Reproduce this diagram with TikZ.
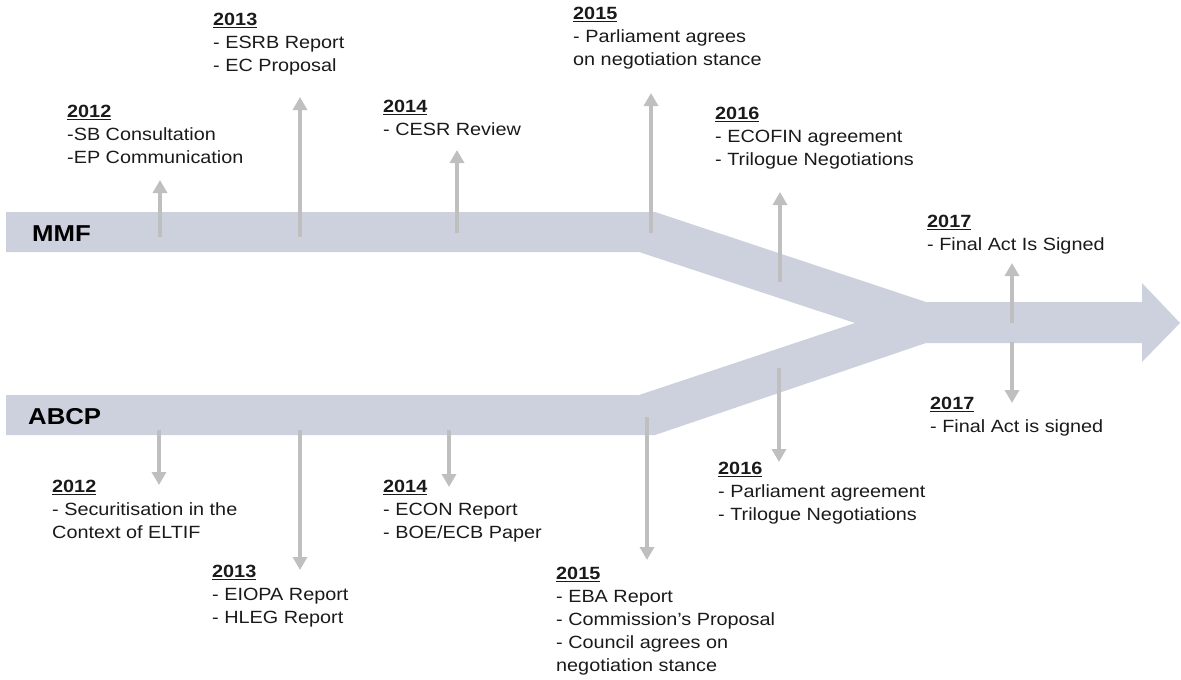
\documentclass[tikz,border=0pt]{standalone}
\usepackage{fontspec}
\setmainfont{Liberation Sans}[FakeStretch=1.12]
\usetikzlibrary{arrows.meta}
\definecolor{bandgray}{RGB}{205,209,222}
\definecolor{arrowgray}{RGB}{191,191,191}
\definecolor{textgray}{RGB}{26,26,26}

\begin{document}
\begin{tikzpicture}[x=1pt,y=-1pt,
  band/.style={fill=bandgray},
  mile/.style={draw=arrowgray,line width=4.5pt,-{Triangle[width=14pt,length=13pt]}},
  yearlabel/.style={anchor=north west,align=left,inner sep=0pt,text=textgray,font=\fontsize{17.7}{23}\selectfont},
  track/.style={anchor=base west,inner sep=0pt,text=black,font=\fontsize{23}{23}\selectfont\bfseries}]
  \useasboundingbox (0,0) rectangle (1181,680);

  \fill[band] (6,212) -- (655,212) -- (926,302) -- (1142,302) -- (1142,283) -- (1180,323)
    -- (1142,362) -- (1142,343) -- (926,343) -- (655,435) -- (6,435) -- (6,395)
    -- (639,395) -- (855,323) -- (639,252) -- (6,252) -- cycle;

  \node [track] (mmf) at (32,241) {MMF};
  \node [track] (abcp) at (28,424) {ABCP};

  \coordinate (m12s) at (160,237); \coordinate (m12e) at (160,180);
  \coordinate (m13s) at (300,237); \coordinate (m13e) at (300,97);
  \coordinate (m14s) at (457,233); \coordinate (m14e) at (457,150);
  \coordinate (m15s) at (651,233); \coordinate (m15e) at (651,93);
  \coordinate (m16s) at (780,282); \coordinate (m16e) at (780,192);
  \coordinate (m17s) at (1012,323); \coordinate (m17e) at (1012,263);

  \coordinate (a12s) at (159,430); \coordinate (a12e) at (159,485);
  \coordinate (a13s) at (300,430); \coordinate (a13e) at (300,570);
  \coordinate (a14s) at (449,430); \coordinate (a14e) at (449,487);
  \coordinate (a15s) at (647,417); \coordinate (a15e) at (647,560);
  \coordinate (a16s) at (779,368); \coordinate (a16e) at (779,462);
  \coordinate (a17s) at (1012,342); \coordinate (a17e) at (1012,403);

  \foreach \t in {m12,m13,m14,m15,m16,m17,a12,a13,a14,a15,a16,a17}
    \draw [mile] (\t s) -- (\t e);

  \node [yearlabel] (m12) at (67,105) {\underline{\textbf{2012}}\\-SB Consultation\\-EP Communication};
  \node [yearlabel] (m13) at (213,13) {\underline{\textbf{2013}}\\- ESRB Report\\- EC Proposal};
  \node [yearlabel] (m14) at (383,100) {\underline{\textbf{2014}}\\- CESR Review};
  \node [yearlabel] (m15) at (573,7) {\underline{\textbf{2015}}\\- Parliament agrees\\on negotiation stance};
  \node [yearlabel] (m16) at (715,107) {\underline{\textbf{2016}}\\- ECOFIN agreement\\- Trilogue Negotiations};
  \node [yearlabel] (m17) at (927,215) {\underline{\textbf{2017}}\\- Final Act Is Signed};

  \node [yearlabel] (a12) at (52,480) {\underline{\textbf{2012}}\\- Securitisation in the\\Context of ELTIF};
  \node [yearlabel] (a13) at (212,565) {\underline{\textbf{2013}}\\- EIOPA Report\\- HLEG Report};
  \node [yearlabel] (a14) at (383,480) {\underline{\textbf{2014}}\\- ECON Report\\- BOE/ECB Paper};
  \node [yearlabel] (a15) at (556,567) {\underline{\textbf{2015}}\\- EBA Report\\- Commission’s Proposal\\- Council agrees on\\negotiation stance};
  \node [yearlabel] (a16) at (718,462) {\underline{\textbf{2016}}\\- Parliament agreement\\- Trilogue Negotiations};
  \node [yearlabel] (a17) at (930,397) {\underline{\textbf{2017}}\\- Final Act is signed};
\end{tikzpicture}
\end{document}
